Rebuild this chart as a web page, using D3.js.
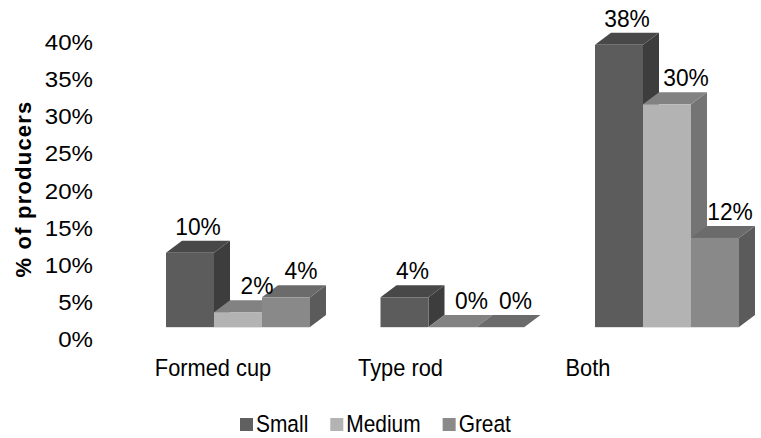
<!DOCTYPE html>
<html><head><meta charset="utf-8">
<script src="https://cdn.jsdelivr.net/npm/d3@7"></script>
<style>body{margin:0;background:#fff;} text{font-family:"Liberation Sans",Arial,sans-serif;fill:#000;}</style>
</head><body>
<svg id="c" width="761" height="438"></svg>
<script>
const categories = ["Formed cup", "Type rod", "Both"];
const series = ["Small", "Medium", "Great"];
const small = [10, 4, 38];
const medium = [2, 0, 30];
const great = [4, 0, 12];
const yTicks = [0, 5, 10, 15, 20, 25, 30, 35, 40];
const tickLabels = yTicks.map(v => v + "%");
const values = {Small: small, Medium: medium, Great: great};

const colors = {
  Small:  {front:"#5c5c5c", top:"#484848", side:"#3d3d3d", legend:"#606060"},
  Medium: {front:"#b3b3b3", top:"#828282", side:"#747474", legend:"#b3b3b3"},
  Great:  {front:"#898989", top:"#6b6b6b", side:"#5b5b5b", legend:"#8a8a8a"}
};
const labelShift = {Small:0, Medium:11, Great:7};

const svg = d3.select("#c");
const DX = 16, DY = 12;
const y = d3.scaleLinear().domain([0, 40]).range([327, 30]);
const x = d3.scaleBand().domain(categories).range([166, 739]).paddingInner(0.3287).paddingOuter(0);
const xs = d3.scaleBand().domain(series).range([0, x.bandwidth()]);
const xl = d3.scalePoint().domain(categories).range([213, 588]);

function place(sel, fx, fy, sx) {
  sel.attr("transform", (d, i) => `translate(${fx(d, i)},${fy(d, i)}) scale(${sx},1)`);
}

// y tick labels
const tk = svg.append("g").selectAll("text").data(yTicks).join("text")
  .attr("text-anchor", "end").attr("font-size", 22.5)
  .text((d, i) => tickLabels[i]);
place(tk, () => 93, d => y(d) + 20, 1.07);

// y title
svg.append("text").attr("transform", "translate(31,189) rotate(-90)")
  .attr("text-anchor", "middle").attr("font-size", 22).attr("font-weight", "bold")
  .attr("letter-spacing", 1.2)
  .text("% of producers");

const bars = [];
categories.forEach((c, ci) => series.forEach(s => bars.push({c, s, v: values[s][ci]})));
const g = svg.append("g");
bars.forEach(b => {
  const x0 = x(b.c) + xs(b.s), w = xs.bandwidth();
  const y0 = y(0), y1 = y(b.v);
  const col = colors[b.s];
  g.append("path").attr("fill", col.side)
    .attr("d", `M${x0+w},${y1} L${x0+w+DX},${y1-DY} L${x0+w+DX},${y0-DY} L${x0+w},${y0} Z`);
  g.append("path").attr("fill", col.top)
    .attr("d", `M${x0},${y1} L${x0+DX},${y1-DY} L${x0+w+DX},${y1-DY} L${x0+w},${y1} Z`);
  if (y0 - y1 > 0) g.append("rect").attr("x", x0).attr("y", y1).attr("width", w).attr("height", y0 - y1).attr("fill", col.front);
  g.append("line").attr("x1", x0).attr("x2", x0 + w).attr("y1", y0 + 0.5).attr("y2", y0 + 0.5).attr("stroke", "#e2e2e2");
});
const vl = svg.append("g").selectAll("text").data(bars).join("text")
  .attr("text-anchor", "middle").attr("font-size", 24.5)
  .text(b => b.v + "%");
place(vl, b => x(b.c) + xs(b.s) + xs.bandwidth() / 2 + DX / 2 + labelShift[b.s], b => y(b.v) - 18, 0.93);

const cl = svg.append("g").selectAll("text").data(categories).join("text")
  .attr("text-anchor", "middle").attr("font-size", 24.5).text(d => d);
place(cl, d => xl(d), () => 376, 0.89);

const lg = svg.append("g");
let lx = 240;
series.forEach(s => {
  lg.append("rect").attr("x", lx).attr("y", 418).attr("width", 13).attr("height", 13).attr("fill", colors[s].legend);
  const t = lg.append("text").attr("font-size", 23.5).text(s)
    .attr("transform", `translate(${lx + 16},432) scale(0.89,1)`);
  lx += 16 + t.node().getComputedTextLength() * 0.89 + 22;
});
</script>
</body></html>
